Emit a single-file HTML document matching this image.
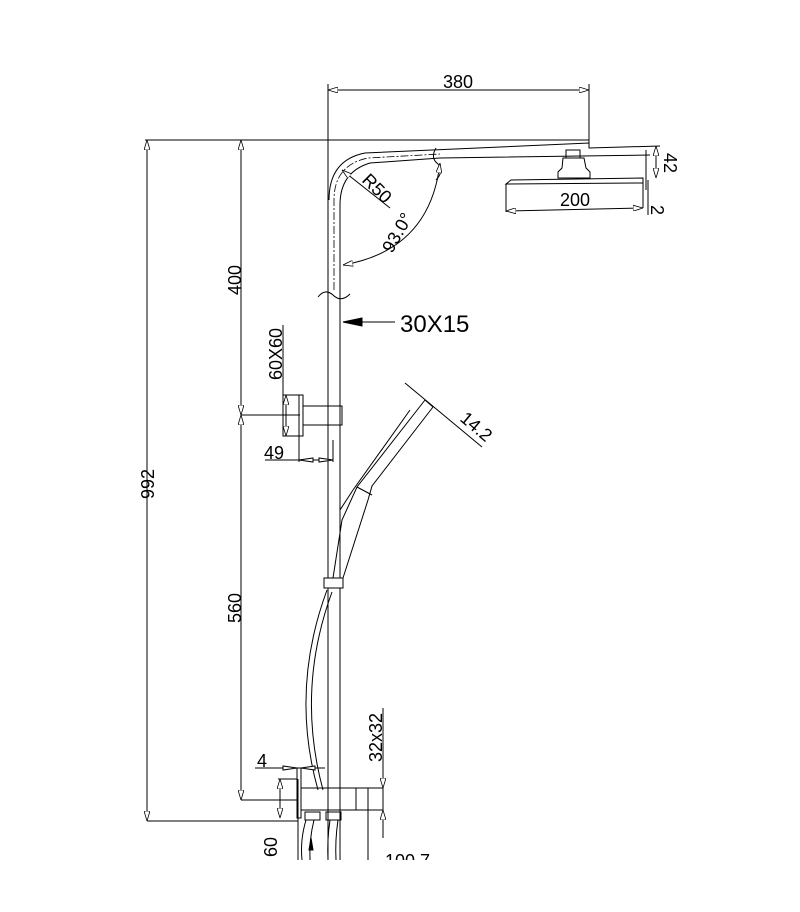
<!DOCTYPE html>
<html><head><meta charset="utf-8"><style>
html,body{margin:0;padding:0;background:#fff;}
svg{display:block}
text{font-family:"Liberation Sans",sans-serif;fill:#000}
</style></head><body>
<svg width="800" height="912" viewBox="0 0 800 912" xmlns="http://www.w3.org/2000/svg">
<defs>
<marker id="a" markerWidth="10" markerHeight="6" refX="10" refY="3" orient="auto-start-reverse" markerUnits="userSpaceOnUse"><path d="M0,0 L10,3 L0,6 Z" fill="#fff" stroke="#000" stroke-width="0.8"/></marker>
</defs>
<g stroke="#000" stroke-width="1" fill="none">
<line x1="328" y1="90" x2="589" y2="90" marker-start="url(#a)" marker-end="url(#a)"/>
<line x1="328" y1="84" x2="328" y2="140"/>
<line x1="589" y1="84" x2="589" y2="148"/>
<line x1="145" y1="140" x2="589" y2="140"/>
<line x1="328" y1="140" x2="328" y2="860"/>
<path d="M329,200 Q329,160 365,153 L589,143 L589,148 L660,146"/>
<path d="M340,205 Q340,172 370,163 L440,158 L650,155"/>
<line x1="340" y1="205" x2="340" y2="860"/>
<path d="M334,290 L334,200 Q334,165 368,158 L440,154" stroke-dasharray="8,2,2,2" stroke-width="0.8"/>
<path d="M318,297 Q325,288 333,295 Q341,303 350,294"/>
<path d="M436,148 Q430,158 438,164 Q444,172 436,180"/>
<line x1="342" y1="170" x2="390" y2="208" marker-start="url(#a)"/>
<path d="M343,265 Q430,250 440,163" marker-start="url(#a)" marker-end="url(#a)"/>
<rect x="566" y="150" width="14" height="8"/>
<path d="M563,158 L584,158 L586,168 L590,172 L590,178 L558,178 L558,172 L562,168 Z"/>
<path d="M506,184 L511,180 L643,178 L643,183 Z"/>
<line x1="506" y1="184" x2="506" y2="212"/>
<line x1="643" y1="183" x2="643" y2="208"/>
<line x1="506" y1="211" x2="643" y2="208" marker-start="url(#a)" marker-end="url(#a)"/>
<line x1="646" y1="150" x2="646" y2="190"/>
<line x1="656" y1="146" x2="656" y2="178" marker-start="url(#a)" marker-end="url(#a)"/>
<line x1="648" y1="180" x2="648" y2="215"/>
<line x1="395" y1="322" x2="343" y2="322"/>
<path d="M343,322 L362,318 L362,326 Z" fill="#000"/>
<line x1="147" y1="140" x2="147" y2="821" marker-start="url(#a)" marker-end="url(#a)"/>
<line x1="241" y1="140" x2="241" y2="415" marker-start="url(#a)" marker-end="url(#a)"/>
<line x1="241" y1="415" x2="241" y2="800" marker-start="url(#a)" marker-end="url(#a)"/>
<line x1="147" y1="821" x2="298" y2="821"/>
<line x1="241" y1="800" x2="298" y2="800"/>
<line x1="241" y1="415" x2="300" y2="415"/>
<rect x="283" y="395" width="20" height="41"/>
<line x1="299" y1="395" x2="299" y2="436"/>
<rect x="303" y="406" width="39" height="19"/>
<line x1="283" y1="325" x2="283" y2="395"/>
<line x1="286" y1="395" x2="286" y2="436" marker-start="url(#a)" marker-end="url(#a)"/>
<line x1="299" y1="436" x2="299" y2="462"/>
<line x1="333" y1="440" x2="333" y2="462"/>
<line x1="265" y1="460" x2="333" y2="460"/>
<path d="M299,460 L313,458 L313,462 Z" fill="#fff"/>
<path d="M333,460 L319,458 L319,462 Z" fill="#fff"/>
<line x1="405" y1="383" x2="482" y2="447"/>
<line x1="425" y1="400" x2="433" y2="407"/>
<path d="M425,400 L357,487 L342,520 L333,578"/>
<path d="M433,407 L372,486 L368,500 L343,578"/>
<path d="M410,410 L353,490"/>
<path d="M357,487 L372,495"/>
<path d="M353,490 L340,510"/>
<rect x="324" y="578" width="19" height="10" fill="#fff"/>
<path d="M327,590 Q290,690 318,790"/>
<path d="M332,592 Q296,690 323,790"/>
<rect x="297" y="768" width="4" height="50"/>
<rect x="301" y="788" width="55" height="22"/>
<rect x="356" y="788" width="12" height="22"/>
<line x1="368" y1="788" x2="383" y2="788"/>
<line x1="368" y1="810" x2="383" y2="810"/>
<line x1="368" y1="810" x2="368" y2="860"/>
<line x1="383" y1="708" x2="383" y2="838"/>
<line x1="383" y1="775" x2="383" y2="788" marker-end="url(#a)"/>
<line x1="383" y1="822" x2="383" y2="810" marker-end="url(#a)"/>
<rect x="305" y="812" width="15" height="8"/>
<rect x="326" y="812" width="15" height="8"/>
<path d="M306,820 Q300,840 302,860 M314,820 Q309,840 310,860 M330,820 Q327,840 328,860 M338,820 Q335,840 336,860"/>
<path d="M311,838 L309,850 L313,850 Z" fill="#000"/>
<line x1="298" y1="779" x2="298" y2="860"/>
<line x1="278" y1="779" x2="297" y2="779"/>
<line x1="280" y1="779" x2="280" y2="818" marker-start="url(#a)" marker-end="url(#a)"/>
<line x1="255" y1="768" x2="325" y2="768"/>
<path d="M297,768 L283,766 L283,770 Z" fill="#fff"/>
<path d="M301,768 L315,766 L315,770 Z" fill="#fff"/>
</g>
<text x="458" y="88" font-size="18" text-anchor="middle">380</text>
<text x="0" y="0" font-size="18" transform="translate(361,181) rotate(45)">R50</text>
<text x="0" y="0" font-size="18" transform="translate(392,254) rotate(-60)">93.0°</text>
<text x="575" y="206" font-size="18" text-anchor="middle">200</text>
<text x="0" y="0" font-size="18" transform="translate(664,153) rotate(90)">42</text>
<text x="0" y="0" font-size="18" transform="translate(651,205) rotate(90)">2</text>
<text x="400" y="332" font-size="24">30X15</text>
<text x="0" y="0" font-size="18" transform="translate(154,499) rotate(-90)">992</text>
<text x="0" y="0" font-size="18" transform="translate(241,295) rotate(-90)">400</text>
<text x="0" y="0" font-size="18" transform="translate(241,623) rotate(-90)">560</text>
<text x="0" y="0" font-size="18" transform="translate(282,380) rotate(-90)">60X60</text>
<text x="264" y="459" font-size="18">49</text>
<text x="0" y="0" font-size="18" transform="translate(459,420) rotate(40)">14.2</text>
<text x="0" y="0" font-size="18" transform="translate(382,762) rotate(-90)">32x32</text>
<text x="257" y="767" font-size="18">4</text>
<text x="0" y="0" font-size="18" transform="translate(277,857) rotate(-90)">60</text>
<text x="385" y="867" font-size="18">100.7</text>
<rect x="0" y="860" width="800" height="52" fill="#fff"/>
</svg>
</body></html>
